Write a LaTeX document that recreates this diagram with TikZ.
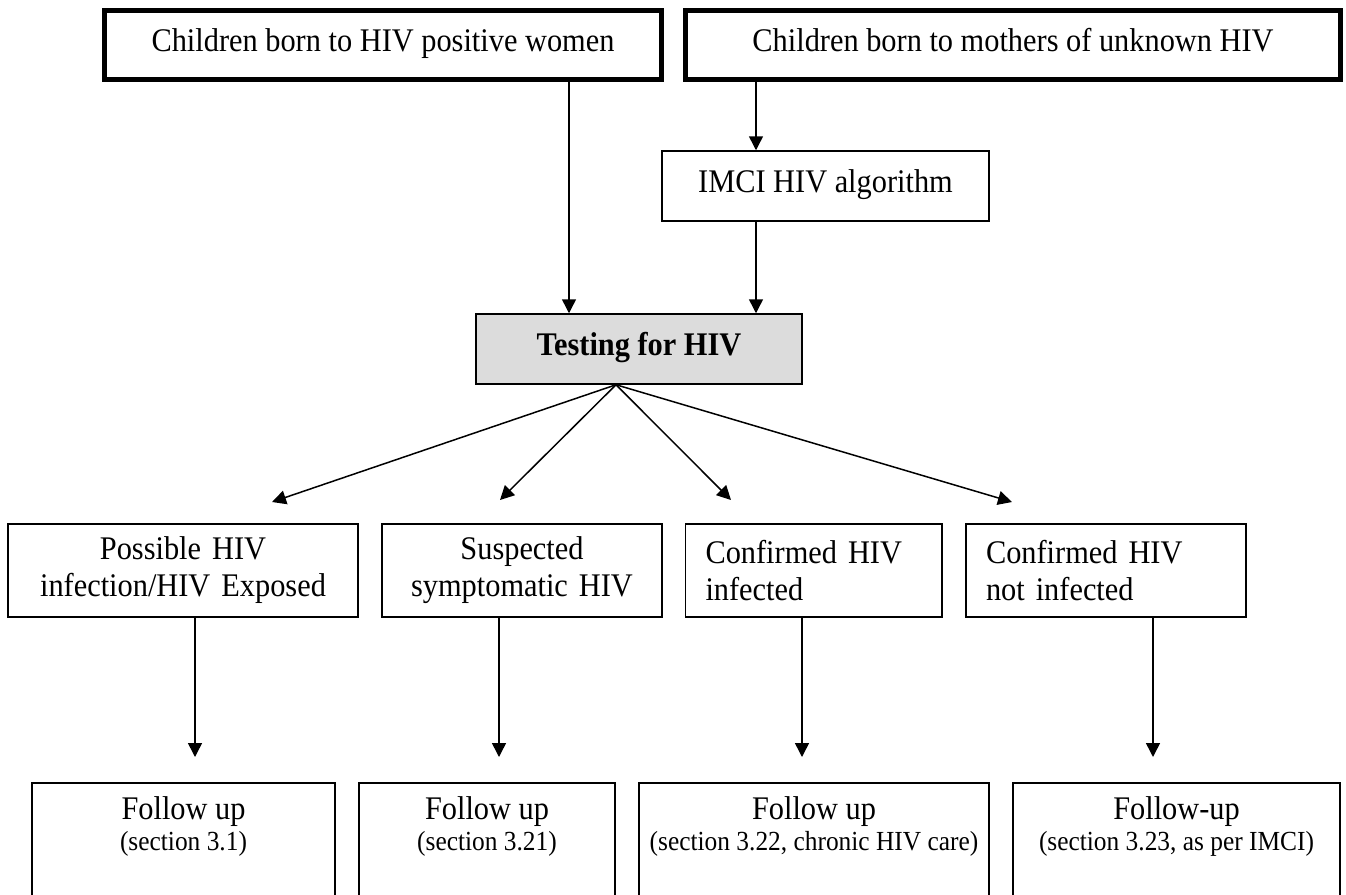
\documentclass[tikz,border=0pt]{standalone}
\usepackage{fontspec}
\setmainfont{Liberation Serif}[FakeStretch=0.92]
\usetikzlibrary{arrows.meta}
\newcommand\mainfs{\fontsize{16.5pt}{18.5pt}\selectfont}
\newcommand\secfs{\fontsize{13.8pt}{15pt}\selectfont}
\definecolor{tgray}{RGB}{220,220,220}
\begin{document}
\begin{tikzpicture}[x=0.5pt,y=-0.5pt,
  oneline/.style={text height=11pt, text depth=4.5pt},
  topbox/.style={draw, line width=2.5pt, inner sep=0pt, font=\mainfs, minimum height=34.5pt, oneline},
  plainbox/.style={draw, line width=0.75pt, inner sep=0pt, font=\mainfs},
  midc/.style={plainbox, minimum height=46.5pt, align=center},
  midl/.style={plainbox, minimum height=46.5pt, align=left, inner xsep=10pt},
  botbox/.style={plainbox, anchor=north, minimum height=100pt},
  futext/.style={font=\mainfs, anchor=base, inner sep=0pt},
  sectext/.style={font=\secfs, anchor=base, inner sep=0pt},
  arr/.style={-{Triangle[width=7pt,length=7pt]}, line width=0.75pt}]
\useasboundingbox (0,0) rectangle (1346,895);
\clip (0,0) rectangle (1346,895);

% top row
\node[topbox, minimum width=278.5pt] (ta) at (383,45) {Children born to HIV positive women};
\node[topbox, minimum width=327.5pt] (tb) at (1013,45) {Children born to mothers of unknown HIV};

% IMCI and testing
\node[plainbox, oneline, minimum width=163.5pt, minimum height=35pt] (imci) at (825.5,186) {IMCI HIV algorithm};
\node[plainbox, oneline, fill=tgray, minimum width=163pt, minimum height=35pt, font=\mainfs\bfseries] (tst) at (639,349) {Testing for HIV};

% middle row
\node[midc, minimum width=175pt, text width=165pt] (m1) at (183,570.5) {Possible HIV\\infection/HIV Exposed};
\node[midc, minimum width=140pt, text width=132pt] (m2) at (522,570.5) {Suspected\\symptomatic HIV};
\node[midl, minimum width=128.25pt, text width=108.25pt] (m3) at (813.75,570.5) {Confirmed HIV\\infected};
\node[midl, minimum width=140pt, text width=120pt] (m4) at (1106,570.5) {Confirmed HIV\\not infected};

% bottom row
\node[botbox, minimum width=151.5pt] (b1) at (183.5,782) {};
\node[botbox, minimum width=128pt] (b2) at (487,782) {};
\node[botbox, minimum width=175pt] (b3) at (814,782) {};
\node[botbox, minimum width=163.5pt] (b4) at (1176.5,782) {};
\node[futext] (f1) at (183.5,819) {Follow up};
\node[sectext] (s1) at (183.5,850) {(section 3.1)};
\node[futext] (f2) at (487,819) {Follow up};
\node[sectext] (s2) at (487,850) {(section 3.21)};
\node[futext] (f3) at (814,819) {Follow up};
\node[sectext] (s3) at (814,850) {(section 3.22, chronic HIV care)};
\node[futext] (f4) at (1176.5,819) {Follow-up};
\node[sectext] (s4) at (1176.5,850) {(section 3.23, as per IMCI)};

% helper coordinates
\coordinate (xa) at (569,0);
\coordinate (xb) at (756,0);
\coordinate (fo) at (616,0);
\coordinate (t1) at (272,502);
\coordinate (t2) at (500,500);
\coordinate (t3) at (731,500);
\coordinate (t4) at (1012,502);
\coordinate (d1) at (195,757);
\coordinate (d2) at (499,757);
\coordinate (d3) at (802,757);
\coordinate (d4) at (1153,757);

% connectors
\draw[arr] (ta.south -| xa) -- (tst.north -| xa);
\draw[arr] (tb.south -| xb) -- (imci.north -| xb);
\draw[arr] (imci.south -| xb) -- (tst.north -| xb);
\draw[arr] (tst.south -| fo) -- (t1);
\draw[arr] (tst.south -| fo) -- (t2);
\draw[arr] (tst.south -| fo) -- (t3);
\draw[arr] (tst.south -| fo) -- (t4);
\draw[arr] (m1.south -| d1) -- (d1);
\draw[arr] (m2.south -| d2) -- (d2);
\draw[arr] (m3.south -| d3) -- (d3);
\draw[arr] (m4.south -| d4) -- (d4);
\end{tikzpicture}
\end{document}
